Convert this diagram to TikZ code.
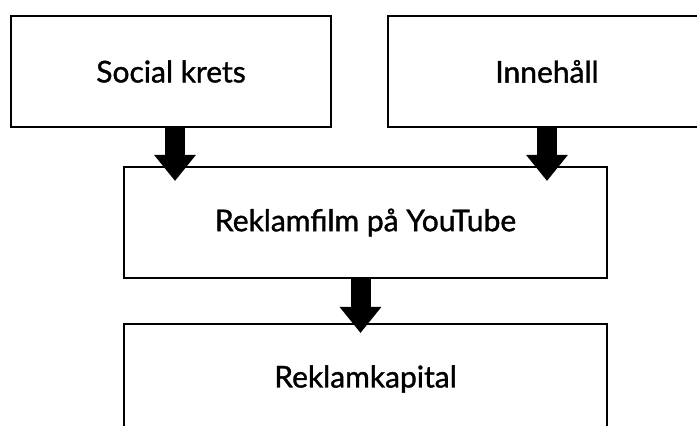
\documentclass[tikz,border=0pt]{standalone}
\usepackage{fontspec}
\setmainfont{Lato}[BoldFont=Lato, BoldFeatures={FakeBold=1.2}]
\usetikzlibrary{arrows.meta, positioning, calc}
\tikzset{
  box/.style={draw, line width=2pt, minimum height=111pt, font=\fontsize{30}{34}\selectfont\bfseries},
  blockarrow/.style={line width=20pt, -{Triangle[width=40pt,length=26pt]}}
}

\begin{document}
\begin{tikzpicture}[x=1pt, y=1pt, node distance=44pt]
\clip (0,0) rectangle (697,426);
\fill[white] (0,0) rectangle (697,426);
\node[box, minimum width=320pt] (social) at (171,354.5) {Social krets};
\node[box, minimum width=318pt] (innehall) at (547,354.5) {Innehåll};
\node[box, minimum width=483pt] (film) at (365.5,203.5) {Reklamfilm på YouTube};
\node[box, minimum width=483pt, minimum height=110pt, below=of film] (kapital) {Reklamkapital};
% arrows
\draw[blockarrow] ($(social.south)+(4,0)$) -- ($(social.south |- film.north)+(4,-15)$);
\draw[blockarrow] (innehall.south) -- ($(innehall.south |- film.north)+(0,-15)$);
\draw[blockarrow] ($(film.south)+(-5,0)$) -- ($(kapital.north)+(-5,-10)$);
\end{tikzpicture}
\end{document}
